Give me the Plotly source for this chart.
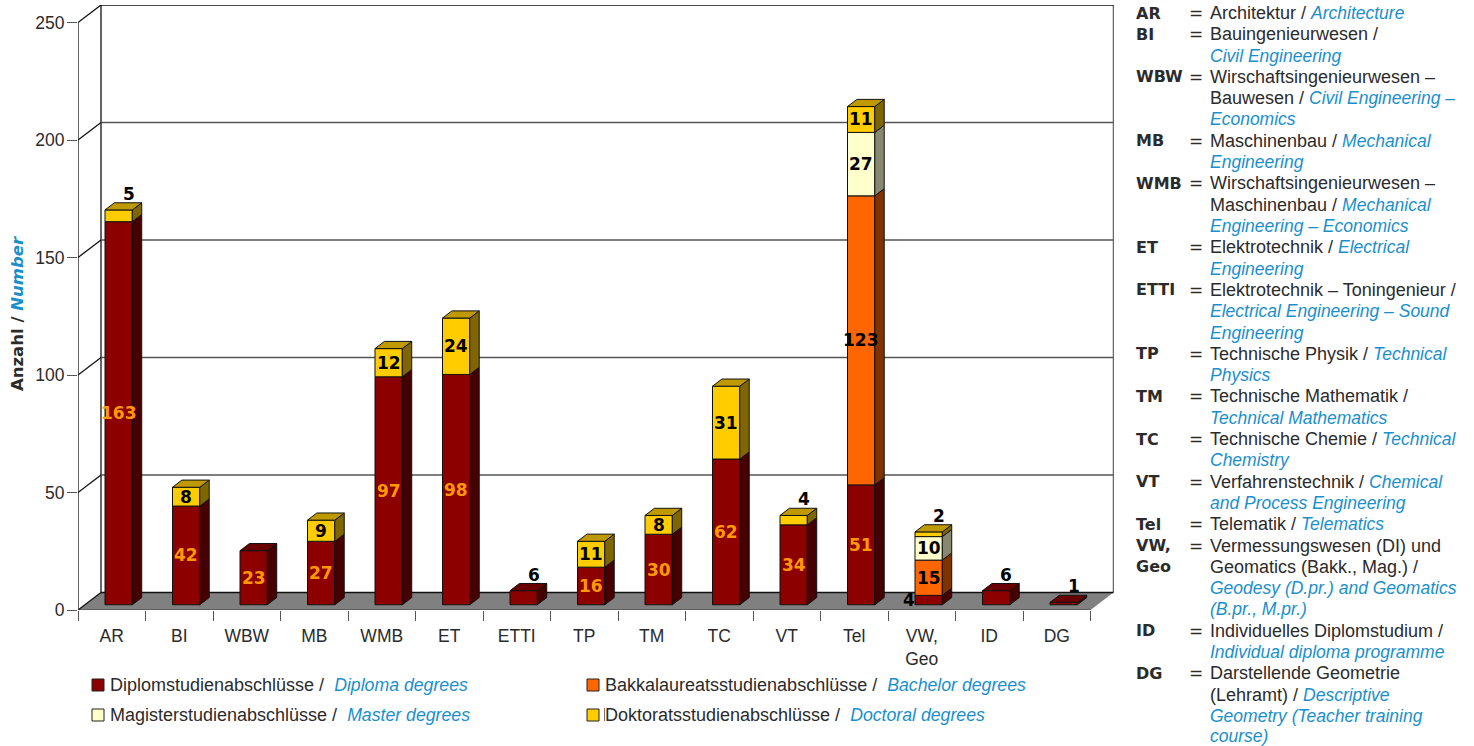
import plotly.graph_objects as go

# Degree counts per study programme, stacked from Diplom upwards
categories = ["AR", "BI", "WBW", "MB", "WMB", "ET", "ETTI", "TP", "TM", "TC", "VT", "Tel", "VW,<br>Geo", "ID", "DG"]
diplom = [163, 42, 23, 27, 97, 98, 6, 16, 30, 62, 34, 51, 4, 6, 1]
bakkalaureat = [0, 0, 0, 0, 0, 0, 0, 0, 0, 0, 0, 123, 15, 0, 0]
magister = [0, 0, 0, 0, 0, 0, 0, 0, 0, 0, 0, 27, 10, 0, 0]
doktorat = [5, 8, 0, 9, 12, 24, 0, 11, 8, 31, 4, 11, 2, 0, 0]
y_ticks = [0, 50, 100, 150, 200, 250]

BLUE = "#1A8FCB"
INK = "#2b2b2b"
FONT = "Liberation Sans"
HEAVY = "DejaVu Sans"

# (values, front, side, top, label colour)
series = [
    (diplom, "#8C0000", "#460000", "#690000", "#FF9900"),
    (bakkalaureat, "#FF6600", "#803300", "#BF4D00", "#000000"),
    (magister, "#FFFFCC", "#888870", "#BFBF99", "#000000"),
    (doktorat, "#FFCC00", "#806600", "#BF9900", "#000000"),
]

legend_items = [
    ("Diplomstudienabschlüsse", "Diploma degrees", "#8C0000", 92, 685),
    ("Bakkalaureatsstudienabschlüsse", "Bachelor degrees", "#FF6600", 587, 685),
    ("Magisterstudienabschlüsse", "Master degrees", "#FFFFCC", 92, 715),
    ("Doktoratsstudienabschlüsse", "Doctoral degrees", "#FFCC00", 587, 715),
]

# Abbreviation key: (abbreviation, German part, English part), one row per printed line
key_rows = [
    ("AR", "Architektur / ", "Architecture"),
    ("BI", "Bauingenieurwesen /", ""),
    ("", "", "Civil Engineering"),
    ("WBW", "Wirschaftsingenieurwesen –", ""),
    ("", "Bauwesen / ", "Civil Engineering –"),
    ("", "", "Economics"),
    ("MB", "Maschinenbau / ", "Mechanical"),
    ("", "", "Engineering"),
    ("WMB", "Wirschaftsingenieurwesen –", ""),
    ("", "Maschinenbau / ", "Mechanical"),
    ("", "", "Engineering – Economics"),
    ("ET", "Elektrotechnik / ", "Electrical"),
    ("", "", "Engineering"),
    ("ETTI", "Elektrotechnik – Toningenieur /", ""),
    ("", "", "Electrical Engineering – Sound"),
    ("", "", "Engineering"),
    ("TP", "Technische Physik / ", "Technical"),
    ("", "", "Physics"),
    ("TM", "Technische Mathematik /", ""),
    ("", "", "Technical Mathematics"),
    ("TC", "Technische Chemie / ", "Technical"),
    ("", "", "Chemistry"),
    ("VT", "Verfahrenstechnik / ", "Chemical"),
    ("", "", "and Process Engineering"),
    ("Tel", "Telematik / ", "Telematics"),
    ("VW,", "Vermessungswesen (DI) und", ""),
    ("Geo", "Geomatics (Bakk., Mag.) /", ""),
    ("", "", "Geodesy (D.pr.) and Geomatics"),
    ("", "", "(B.pr., M.pr.)"),
    ("ID", "Individuelles Diplomstudium /", ""),
    ("", "", "Individual diploma programme"),
    ("DG", "Darstellende Geometrie", ""),
    ("", "(Lehramt) / ", "Descriptive"),
    ("", "", "Geometry (Teacher training"),
    ("", "", "course)"),
]

# Plot frame and the oblique projection used for the pseudo-3D look
W, H = 1474, 746
L, R, T, B = 78, 360, 5, 136
PX_X = 67.5            # pixels per category
PX_Y = 2.35            # pixels per count
DEPTH_X = 23 / PX_X    # full floor depth, in category units
DEPTH_Y = 17.5 / PX_Y  # full floor depth, in count units
FRONT, BACK = 0.3, 0.71
BAR_W = 27.3 / PX_X
N = len(categories)
x_max = (W - L - R) / PX_X
y_max = (H - T - B) / PX_Y


def px_x(p):
    return (p - L) / (W - L - R)


def px_y(p):
    return (H - B - p) / (H - T - B)


def page_text(x, y, text, font, **extra):
    """Annotation placed in page pixels, left aligned and vertically centred."""
    return dict(x=px_x(x), y=px_y(y), xref="paper", yref="paper", xanchor="left", yanchor="middle",
                showarrow=False, text=text, font=font, borderpad=0, **extra)


def english(text, size):
    return f'<i><span style="color:{BLUE};font-size:{size}px">{text}</span></i>'


fig = go.Figure()

shapes = [
    # floor
    dict(type="path", xref="x", yref="y", layer="below", fillcolor="#808080", line=dict(width=0),
         path=f"M0,0 L{N},0 L{N + DEPTH_X},{DEPTH_Y} L{DEPTH_X},{DEPTH_Y} Z"),
    # back wall frame
    dict(type="line", xref="x", yref="y", layer="below", x0=DEPTH_X, x1=DEPTH_X, y0=DEPTH_Y, y1=250 + DEPTH_Y,
         line=dict(color="#111", width=1.3)),
    dict(type="line", xref="x", yref="y", layer="below", x0=N + DEPTH_X, x1=N + DEPTH_X, y0=DEPTH_Y, y1=250 + DEPTH_Y,
         line=dict(color="#666", width=1.5)),
    # front axis lines
    dict(type="line", xref="x", yref="y", layer="below", x0=0, x1=0, y0=0, y1=250, line=dict(color="#111", width=1.3)),
    dict(type="line", xref="x", yref="y", layer="below", x0=0, x1=N, y0=0, y1=0, line=dict(color="#555", width=1.3)),
]
for t in y_ticks:
    # gridline on the wall plus the diagonal running back from the axis
    grid_colour = "#555" if 0 < t < 250 else "#111"
    shapes.append(dict(type="line", xref="x", yref="y", layer="below", x0=DEPTH_X, x1=N + DEPTH_X,
                       y0=t + DEPTH_Y, y1=t + DEPTH_Y, line=dict(color=grid_colour, width=1.5)))
    shapes.append(dict(type="line", xref="x", yref="y", layer="below", x0=0, x1=DEPTH_X,
                       y0=t, y1=t + DEPTH_Y, line=dict(color="#111", width=1.3)))

lift = FRONT * DEPTH_Y
shift = FRONT * DEPTH_X
bar_dx = (BACK - FRONT) * DEPTH_X
bar_dy = (BACK - FRONT) * DEPTH_Y

annotations = []
bases = [lift] * N
top_colour = [None] * N

for values, front, side, top, label in series:
    idx = [i for i, v in enumerate(values) if v > 0]
    fig.add_trace(go.Bar(
        x=[i + 0.5 + shift for i in idx],
        y=[values[i] for i in idx],
        base=[bases[i] for i in idx],
        width=BAR_W,
        marker=dict(color=front, line=dict(color="#111", width=1)),
        showlegend=False,
        hoverinfo="y",
    ))
    # right-hand face of each segment
    sx, sy = [], []
    for i in idx:
        xr = i + 0.5 + shift + BAR_W / 2
        b0, b1 = bases[i], bases[i] + values[i]
        sx += [xr, xr + bar_dx, xr + bar_dx, xr, xr, None]
        sy += [b0, b0 + bar_dy, b1 + bar_dy, b1, b0, None]
    fig.add_trace(go.Scatter(x=sx, y=sy, mode="lines", fill="toself", fillcolor=side,
                             line=dict(color="#111", width=1), showlegend=False, hoverinfo="skip"))
    for i in idx:
        v = values[i]
        mid = bases[i] + v / 2
        cx = i + 0.5 + shift
        # segments too short to hold a number get it above the bar or beside it
        xshift, yshift, anchor_y = 0, 0, mid
        if v <= 6:
            if values is diplom and sum(s[0][i] for s in series) > v:
                xshift = -20
            else:
                xshift, yshift, anchor_y = 10, 16, bases[i] + v
        annotations.append(dict(x=cx, y=anchor_y, xref="x", yref="y", yanchor="middle", text=f"<b>{v}</b>",
                                showarrow=False, xshift=xshift, yshift=yshift, borderpad=0,
                                font=dict(family=HEAVY, size=17, color="#000000" if xshift else label)))
        bases[i] += v
        top_colour[i] = top

# top cap of each stack, in the shade of its uppermost segment
for colour in sorted(set(top_colour)):
    tx, ty = [], []
    for i in range(N):
        if top_colour[i] == colour:
            xl = i + 0.5 + shift - BAR_W / 2
            xr = xl + BAR_W
            y0 = bases[i]
            tx += [xl, xr, xr + bar_dx, xl + bar_dx, xl, None]
            ty += [y0, y0, y0 + bar_dy, y0 + bar_dy, y0, None]
    fig.add_trace(go.Scatter(x=tx, y=ty, mode="lines", fill="toself", fillcolor=colour,
                             line=dict(color="#111", width=1), showlegend=False, hoverinfo="skip"))

# y axis caption
annotations.append(dict(x=px_x(17), y=px_y(314), xref="paper", yref="paper", xanchor="center", yanchor="middle",
                        textangle=-90, showarrow=False,
                        text=f'<b>Anzahl / <span style="color:{BLUE}"><i>Number</i></span></b>',
                        font=dict(family=HEAVY, size=16.5, color=INK)))

# legend drawn as swatches and captions on two rows
for de, en, colour, lx, ly in legend_items:
    shapes.append(dict(type="rect", xref="paper", yref="paper", x0=px_x(lx), x1=px_x(lx + 12),
                       y0=px_y(ly - 6), y1=px_y(ly + 6), fillcolor=colour, line=dict(color="#222", width=1)))
    annotations.append(page_text(lx + 17, ly, f"{de} /&nbsp;&nbsp;{english(en, 17.7)}",
                                 dict(family=FONT, size=18, color=INK)))
# thin rule in front of the last legend caption
shapes.append(dict(type="line", xref="paper", yref="paper", x0=px_x(604.5), x1=px_x(604.5),
                   y0=px_y(708), y1=px_y(721), line=dict(color="#777", width=1)))

# abbreviation key, right of the chart; the last row stays clear of the page edge
for row, (abbr, de, en) in enumerate(key_rows):
    ky = min(13 + 21.3 * row, 735.5)
    if abbr:
        annotations.append(page_text(1135, ky, f"<b>{abbr}</b>", dict(family=HEAVY, size=16, color=INK)))
        if abbr != "Geo":
            annotations.append(page_text(1188, ky, "=", dict(family=HEAVY, size=17, color=INK)))
    body = de + (english(en, 17.5) if en else "")
    annotations.append(page_text(1209, ky, body, dict(family=FONT, size=18, color=INK)))

fig.update_layout(
    width=W, height=H, autosize=False,
    margin=dict(l=L, r=R, t=T, b=B, pad=0),
    paper_bgcolor="white", plot_bgcolor="white",
    barmode="overlay",
    showlegend=False,
    font=dict(family=FONT, size=17, color=INK),
    shapes=shapes,
    annotations=annotations,
    xaxis=dict(
        range=[0, x_max], showgrid=False, zeroline=False, showline=False,
        tickmode="array", tickvals=[i + 0.5 for i in range(N)], ticktext=categories,
        ticks="outside", ticklen=10, tickcolor="rgba(0,0,0,0)", tickfont=dict(size=17.5, color=INK),
        minor=dict(tickmode="array", tickvals=list(range(N + 1)), ticks="outside", ticklen=10,
                   tickcolor="#555", tickwidth=1.3, showgrid=False),
    ),
    yaxis=dict(
        range=[0, y_max], showgrid=False, zeroline=False, showline=False,
        tickmode="array", tickvals=y_ticks, ticks="outside", ticklen=10,
        tickcolor="#555", tickwidth=1.3, tickfont=dict(size=17.5, color=INK), ticklabelstandoff=-1,
    ),
)

fig.write_html("out.html")
